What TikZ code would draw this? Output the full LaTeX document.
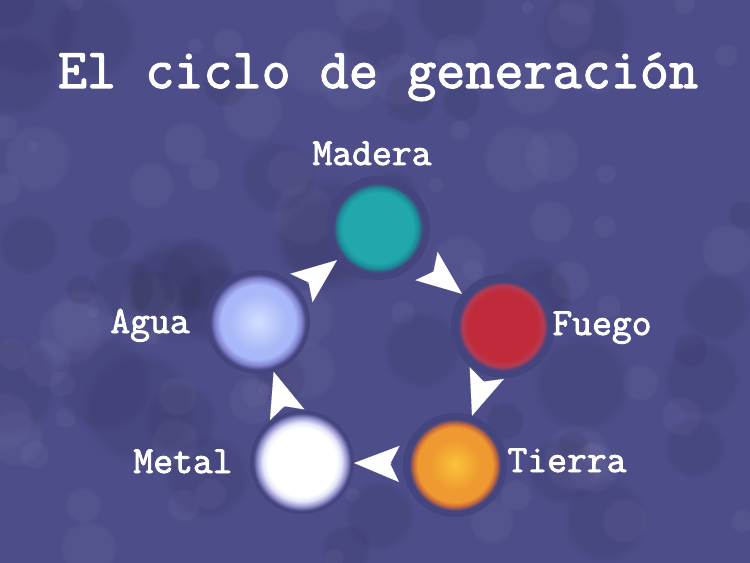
\documentclass[tikz,border=0pt]{standalone}
\usepackage{fontspec}
\setmonofont{Latin Modern Mono}[AutoFakeBold=2.2]
\usetikzlibrary{arrows.meta,fadings}

\definecolor{fondo}{HTML}{4D4D8A}
\definecolor{halo}{HTML}{44447E}
\definecolor{maderaA}{HTML}{20A8AC}
\definecolor{maderaB}{HTML}{1C8A98}
\definecolor{fuegoA}{HTML}{C02A3A}
\definecolor{fuegoB}{HTML}{B43C54}
\definecolor{tierraA}{HTML}{FAC43A}
\definecolor{tierraB}{HTML}{EE9A30}
\definecolor{tierraC}{HTML}{C86A3A}
\definecolor{metalB}{HTML}{E4E4F8}
\definecolor{metalC}{HTML}{9494D0}
\definecolor{aguaA}{HTML}{D4DEFF}
\definecolor{aguaB}{HTML}{A8B8F8}
\definecolor{aguaC}{HTML}{8080CC}

% el borde del circulo queda en 25bp
\pgfdeclareradialshading{madera}{\pgfpointorigin}{color(0bp)=(maderaA); color(17bp)=(maderaA); color(19.5bp)=(maderaB); color(21.5bp)=(halo); color(25bp)=(halo); color(50bp)=(halo)}
\pgfdeclareradialshading{fuego}{\pgfpointorigin}{color(0bp)=(fuegoA); color(16.5bp)=(fuegoA); color(19.5bp)=(fuegoB); color(21.5bp)=(halo); color(25bp)=(halo); color(50bp)=(halo)}
\pgfdeclareradialshading{tierra}{\pgfpointorigin}{color(0bp)=(tierraA); color(12bp)=(tierraB); color(18bp)=(tierraB); color(20bp)=(tierraC); color(22bp)=(halo); color(25bp)=(halo); color(50bp)=(halo)}
\pgfdeclareradialshading{metal}{\pgfpointorigin}{color(0bp)=(white); color(16.5bp)=(white); color(19bp)=(metalB); color(21.5bp)=(metalC); color(23.5bp)=(halo); color(25bp)=(halo); color(50bp)=(halo)}
\pgfdeclareradialshading{agua}{\pgfpointorigin}{color(0bp)=(aguaA); color(14bp)=(aguaB); color(18bp)=(aguaB); color(21bp)=(aguaC); color(23bp)=(halo); color(25bp)=(halo); color(50bp)=(halo)}

\tikzset{
  ball/.style={circle, minimum size=104bp, inner sep=0pt},
  etiqueta/.style={text=white, anchor=base, font=\ttfamily\bfseries\fontsize{38.5bp}{38bp}\selectfont},
  titulo/.style={text=white, anchor=base, font=\ttfamily\bfseries\fontsize{56.5bp}{56bp}\selectfont},
  flujo/.style={white, line width=0.1pt, -{Stealth[length=45bp, width=36bp, inset=9bp]}},
  mancha/.style={path fading=circle with fuzzy edge 20 percent}
}

\begin{document}
\begin{tikzpicture}[x=1bp, y=-1bp]
\useasboundingbox (0,0) rectangle (750,563);
\fill[fondo] (0,0) rectangle (750,563);

% textura del fondo
\begin{scope}
  \clip (0,0) rectangle (750,563);
  \pgfmathsetseed{11}
  \foreach \i in {1,...,80}
    \fill[white, opacity=0.04, mancha] ({rnd*750},{rnd*563}) circle ({6+rnd*30});
  \foreach \i in {1,...,45}
    \fill[black, opacity=0.06, mancha] ({rnd*750},{rnd*563}) circle ({15+rnd*45});
\end{scope}

\node[titulo] (titulo) at (378,88) {El ciclo de generación};

\node[ball, shading=madera] (madera) at (378,228) {};
\node[ball, shading=fuego] (fuego) at (503,326) {};
\node[ball, shading=tierra] (tierra) at (455,465) {};
\node[ball, shading=metal] (metal) at (302,462) {};
\node[ball, shading=agua] (agua) at (258,322) {};

\node[etiqueta] (lmadera) at (372,165) {Madera};
\node[etiqueta] (lfuego) at (602,335) {Fuego};
\node[etiqueta] (ltierra) at (567,472) {Tierra};
\node[etiqueta] (lmetal) at (183,473) {Metal};
\node[etiqueta] (lagua) at (150,333) {Agua};

\draw[flujo, shorten <=17bp] (madera) -- (fuego);
\draw[flujo, shorten <=5bp] (fuego) -- (tierra);
\draw[flujo, shorten <=11bp] (tierra) -- (metal);
\draw[flujo, shorten <=5bp] (metal) -- (agua);
\draw[flujo, shorten <=10bp] (agua) -- (madera);
\end{tikzpicture}
\end{document}
